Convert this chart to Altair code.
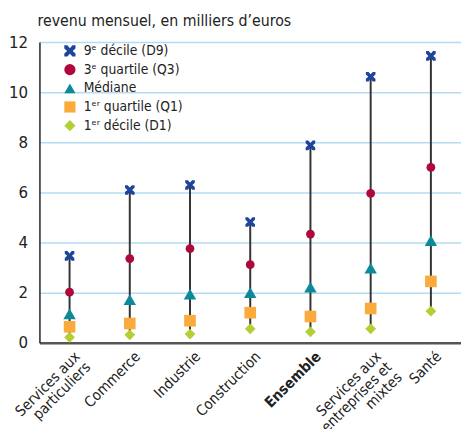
import altair as alt
import pandas as pd

categories = ["Services aux particuliers", "Commerce", "Industrie", "Construction",
              "Ensemble", "Services aux entreprises et mixtes", "Santé"]
label_lines = {
    "Services aux particuliers": ["Services aux", "particuliers\u00a0"],
    "Services aux entreprises et mixtes": ["Services aux\u00a0", "entreprises et", "mixtes\u00a0\u00a0\u00a0\u00a0\u00a0"],
}
d9 = [3.47, 6.1, 6.3, 4.82, 7.88, 10.62, 11.45]
q3 = [2.02, 3.36, 3.76, 3.12, 4.34, 5.96, 7.0]
med = [1.15, 1.72, 1.94, 2.0, 2.22, 2.98, 4.08]
q1 = [0.64, 0.77, 0.88, 1.2, 1.05, 1.37, 2.45]
d1 = [0.22, 0.32, 0.35, 0.56, 0.44, 0.56, 1.26]

series_names = ["9ᵉ décile (D9)", "3ᵉ quartile (Q3)", "Médiane", "1ᵉʳ quartile (Q1)", "1ᵉʳ décile (D1)"]
series_values = [d9, q3, med, q1, d1]
series_colors = ["#1f449c", "#b0083a", "#0d8a9a", "#fbab3c", "#b3cf33"]
series_sizes = [95, 80, 160, 140, 120]
xpath = ("M-1,-1L-0.45,-1L0,-0.5L0.45,-1L1,-1L1,-0.45L0.5,0L1,0.45L1,1L0.45,1L0,0.5"
         "L-0.45,1L-1,1L-1,0.45L-0.5,0L-1,-0.45Z")
series_shapes = [xpath, "circle", "triangle-up", "square", "diamond"]
subtitle = "revenu mensuel, en milliers d’euros"

rows = []
for name, vals, sz in zip(series_names, series_values, series_sizes):
    for c, v in zip(categories, vals):
        rows.append({"cat": c, "serie": name, "val": v, "sz": sz})
long_df = pd.DataFrame(rows)
range_df = pd.DataFrame({"cat": categories, "lo": d1, "hi": d9})

FONT = "'DejaVu Sans Condensed', Roboto, sans-serif"

expr = "datum.value"
for k, v in label_lines.items():
    arr = "[" + ",".join("'" + s + "'" for s in v) + "]"
    expr = f"datum.value == '{k}' ? {arr} : ({expr})"

x_enc = alt.X("cat:N", sort=categories, title=None,
              scale=alt.Scale(paddingInner=0, paddingOuter=0),
              axis=alt.Axis(labelAngle=-45, labelAlign="right", labelBaseline="middle",
                            labelFont=FONT, labelFontSize=15, labelColor="#222",
                            labelExpr=expr, labelLineHeight=15, labelPadding=11,
                            labelOffset=8, labelBound=False,
                            labelFontWeight={"condition": {"test": "datum.value == 'Ensemble'", "value": "bold"},
                                             "value": "normal"},
                            ticks=False, domainColor="#555", domainWidth=2.5, grid=False))

rules = alt.Chart(range_df).mark_rule(color="#333", strokeWidth=2).encode(
    x=x_enc,
    y=alt.Y("lo:Q"),
    y2="hi:Q",
)

points = alt.Chart(long_df).mark_point(filled=True, opacity=1).encode(
    x=x_enc,
    y=alt.Y("val:Q", title=None,
            scale=alt.Scale(domain=[0, 12], nice=False),
            axis=alt.Axis(values=[0, 2, 4, 6, 8, 10, 12], ticks=False, labelFont=FONT,
                          labelFontSize=17, labelColor="#222", labelPadding=12,
                          gridColor="#b5dbf2", gridWidth=1.5, domainColor="#222", domainWidth=1.5)),
    color=alt.Color("serie:N", sort=series_names,
                    scale=alt.Scale(domain=series_names, range=series_colors),
                    legend=alt.Legend(title=None, orient="none", legendX=24, legendY=2,
                                      labelFont=FONT, labelFontSize=14, labelColor="#222",
                                      symbolSize=130, symbolStrokeWidth=0, rowPadding=5,
                                      padding=0, labelOffset=7)),
    shape=alt.Shape("serie:N", sort=series_names,
                    scale=alt.Scale(domain=series_names, range=series_shapes)),
    size=alt.Size("sz:Q", scale=None, legend=None),
)

sub = alt.Chart(pd.DataFrame({"t": [subtitle]})).mark_text(
    align="left", baseline="alphabetic", font=FONT, fontSize=16, color="#222"
).encode(x=alt.value(-2), y=alt.value(-16), text="t:N")

chart = alt.layer(rules, points, sub).properties(
    width=429, height=306,
    padding={"left": 32, "top": 31, "right": 0, "bottom": 84},
    autosize=alt.AutoSizeParams(type="none"),
).configure_view(stroke=None)

chart.save("out.html", embed_options={"renderer": "svg", "actions": False})
